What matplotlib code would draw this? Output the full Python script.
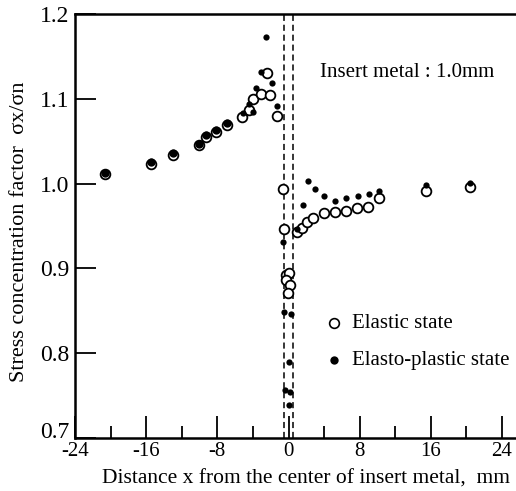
import numpy as np
import matplotlib.pyplot as plt

# values
# left side, both states nearly coincide
x_left = [-20.6, -15.5, -12.95, -10.1, -9.3, -8.2, -6.9]
y_left = [1.011, 1.023, 1.034, 1.045, 1.055, 1.061, 1.069]

# elastic state (open circles)
x_el = x_left + [-5.23, -4.41, -3.96, -3.09, -2.45, -2.08, -1.33,
                 -0.65, -0.51, -0.32, 0.11, -0.28, 0.17, -0.06,
                 0.92, 1.48, 2.11, 2.79, 4.02, 5.26, 6.50, 7.73, 8.97, 10.21,
                 15.42, 20.37]
y_el = y_left + [1.078, 1.087, 1.100, 1.106, 1.131, 1.105, 1.080,
                 0.994, 0.946, 0.892, 0.895, 0.886, 0.881, 0.871,
                 0.943, 0.948, 0.955, 0.960, 0.965, 0.967, 0.968, 0.971, 0.973, 0.983,
                 0.991, 0.996]

# elasto-plastic state (filled dots)
x_ep = [-5.15, -4.41, -3.96, -3.65, -3.09, -2.53, -1.86, -1.26,
        -0.59, -0.54, 0.26, 0.11, -0.34, 0.20, 0.11,
        0.92, 1.60, 2.23, 2.98, 4.02, 5.26, 6.50, 7.78, 9.05, 10.21,
        15.42, 20.37]
y_ep = [1.083, 1.094, 1.084, 1.113, 1.132, 1.173, 1.119, 1.091,
        0.931, 0.849, 0.846, 0.790, 0.757, 0.754, 0.739,
        0.947, 0.975, 1.003, 0.994, 0.985, 0.979, 0.983, 0.986, 0.988, 0.991,
        0.998, 1.001]

insert_edges = [-0.5, 0.5]

plt.rcParams['font.family'] = ['Liberation Serif', 'DejaVu Serif']

fig = plt.figure(figsize=(5.16, 4.91), dpi=100)
ax = fig.add_axes([0.1453, 0.1079, 0.8547, 0.8635])

for xe in insert_edges:
    ax.axvline(xe, color='black', lw=1.1, ls=(0, (4, 2.5)))

ax.plot(x_el, y_el, 'o', ms=7, mfc='white', mec='black', mew=1.3, zorder=3)
# filled dots on the left side sit almost on top of the open circles
ax.plot(x_left, [v + 0.002 for v in y_left], 'o', ms=6, mfc='black', mec='black',
        mew=0, zorder=4)
ax.plot(x_ep, y_ep, 'o', ms=4.5, mfc='black', mec='black', mew=0, zorder=4)

ax.set_xlim(-24, 25.57)
ax.set_ylim(0.7, 1.2)
ax.set_xticks([-24, -16, -8, 0, 8, 16, 24])
ax.set_xticklabels(['-24', '-16', '-8', '0', '8', '16', '24'])
ax.set_xticks([-20, -12, -4, 4, 12, 20], minor=True)
ax.set_yticks([0.7, 0.8, 0.9, 1.0, 1.1, 1.2])
ax.set_yticklabels(['0.7', '0.8', '0.9', '1.0', '1.1', '1.2'])

ax.tick_params(axis='x', which='major', direction='in', length=16, width=1.3,
               labelsize=15, pad=3)
ax.tick_params(axis='x', which='minor', direction='in', length=8.5, width=1.3)
ax.tick_params(axis='y', direction='in', length=15, width=1.3, labelsize=17, pad=4)
# bottom y label sits just above the -24 label, as in the original
ax.get_yticklabels()[0].set_verticalalignment('baseline')

for s in ['left', 'bottom', 'top']:
    ax.spines[s].set_linewidth(1.8)
ax.spines['right'].set_visible(False)

ax.set_xlabel('Distance x from the center of insert metal,  mm', fontsize=15.5)
ax.set_ylabel('Stress concentration factor  σx/σn', fontsize=16)
ax.xaxis.set_label_coords(0.524, -0.075)
ax.yaxis.set_label_coords(-0.105, 0.486)

ax.text(0.556, 0.863, 'Insert metal : 1.0mm', fontsize=15, va='center',
        transform=ax.transAxes)

ax.plot([0.587], [0.271], 'o', ms=7, mfc='white', mec='black', mew=1.2,
        transform=ax.transAxes)
ax.text(0.628, 0.271, 'Elastic state', fontsize=15, va='center', transform=ax.transAxes)
ax.plot([0.587], [0.184], 'o', ms=6, mfc='black', mec='black', mew=0,
        transform=ax.transAxes)
ax.text(0.628, 0.184, 'Elasto-plastic state', fontsize=15, va='center',
        transform=ax.transAxes)

fig.savefig('out.png', dpi=100)
